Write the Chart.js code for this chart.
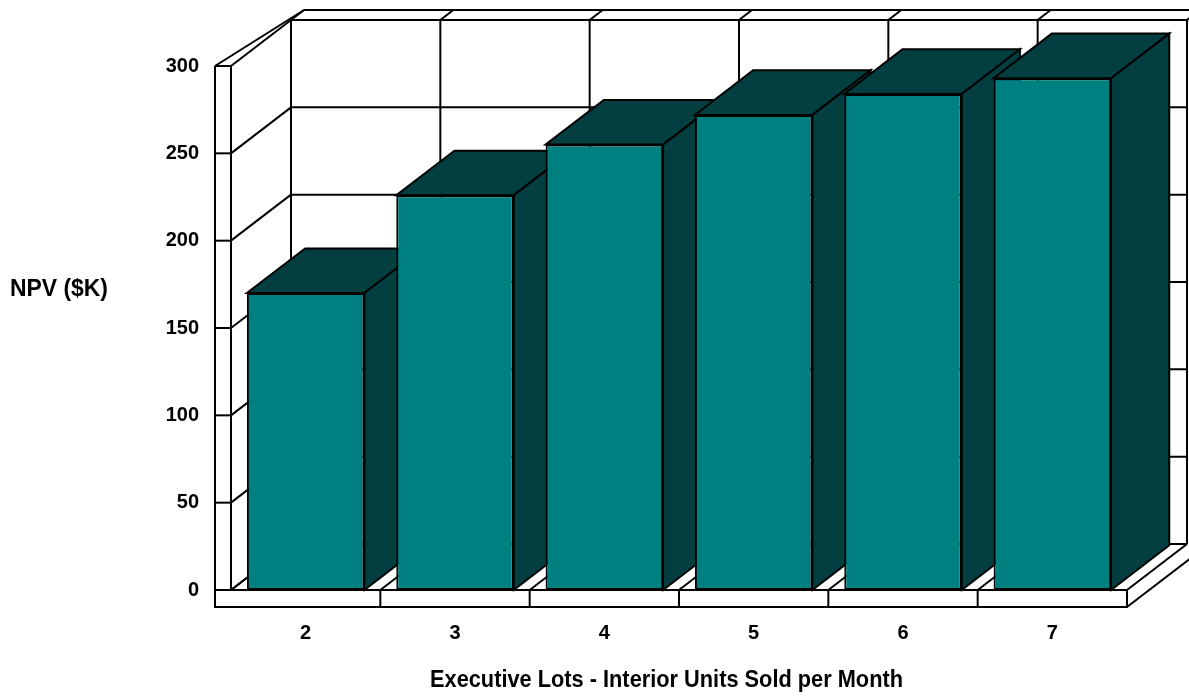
<!DOCTYPE html>
<html>
<head>
<meta charset="utf-8">
<script src="https://cdn.jsdelivr.net/npm/chart.js@4"></script>
<style>
  html, body { margin: 0; padding: 0; background: #fff; }
</style>
</head>
<body>
<canvas id="npvChart" width="1189" height="698"></canvas>
<script>
const unitsSold = ['2', '3', '4', '5', '6', '7'];
const npvValues = [170, 226, 255, 272, 284, 293];
const npvTicks = [0, 50, 100, 150, 200, 250, 300];
const yTitle = 'NPV ($K)';
const xTitle = 'Executive Lots - Interior Units Sold per Month';

const teal = '#008080';
const tealDark = '#033f40';
const depthX = 60, depthY = -46;   // offset from front plane to back wall
const wallX = 13, wallY = -10;     // back wall thickness
const wallW = 16, floorH = 17;     // left wall / floor slab thickness
const barDepth = 0.97;
const font = '"Liberation Sans", Arial, Helvetica, sans-serif';

function line(ctx, x1, y1, x2, y2) {
    ctx.beginPath();
    ctx.moveTo(x1, y1);
    ctx.lineTo(x2, y2);
    ctx.stroke();
}

function face(ctx, pts, fill) {
    ctx.beginPath();
    ctx.moveTo(pts[0][0], pts[0][1]);
    for (let i = 1; i < pts.length; i++) ctx.lineTo(pts[i][0], pts[i][1]);
    ctx.closePath();
    ctx.fillStyle = fill;
    ctx.fill();
    ctx.stroke();
}

// walls, floor and the depth faces of each bar
const box3d = {
    id: 'box3d',
    beforeDatasetsDraw(chart) {
        const { ctx, chartArea: a, scales } = chart;
        const L = a.left, R = a.right, T = a.top, B = a.bottom;
        const n = unitsSold.length;
        const cw = (R - L) / n;

        ctx.save();
        ctx.lineWidth = 2;
        ctx.strokeStyle = '#000';
        ctx.lineJoin = 'miter';

        npvTicks.forEach(v => {
            const py = scales.y.getPixelForValue(v);
            line(ctx, L + depthX, py + depthY, R + depthX, py + depthY);
            line(ctx, L, py, L + depthX, py + depthY);
            line(ctx, L - wallW, py, L, py);
        });

        for (let i = 0; i <= n; i++) {
            const px = L + i * cw;
            line(ctx, px + depthX, T + depthY, px + depthX, B + depthY);
            line(ctx, px + depthX, T + depthY, px + depthX + wallX, T + depthY + wallY);
            line(ctx, px, B, px + depthX, B + depthY);
            if (i > 0 && i < n) line(ctx, px, B, px, B + floorH);
        }

        // outline of the left wall and floor slab
        ctx.beginPath();
        ctx.moveTo(L - wallW, T);
        ctx.lineTo(L - wallW, B + floorH);
        ctx.lineTo(R, B + floorH);
        ctx.lineTo(R, B);
        ctx.stroke();
        line(ctx, L, T, L, B);
        line(ctx, L, B, R, B);
        line(ctx, L - wallW, T, L, T);
        line(ctx, L - wallW, T, L + depthX + wallX, T + depthY + wallY);
        line(ctx, L + depthX + wallX, T + depthY + wallY, chart.width + 20, T + depthY + wallY);
        line(ctx, R, B + floorH, R + depthX + wallX, B + floorH + depthY + wallY);

        const bdx = depthX * barDepth, bdy = depthY * barDepth;
        chart.getDatasetMeta(0).data.forEach(bar => {
            const x0 = bar.x - bar.width / 2, x1 = bar.x + bar.width / 2;
            const yt = bar.y, yb = bar.base;
            face(ctx, [[x0, yt], [x1, yt], [x1 + bdx, yt + bdy], [x0 + bdx, yt + bdy]], tealDark);
            face(ctx, [[x1, yt], [x1 + bdx, yt + bdy], [x1 + bdx, yb + bdy], [x1, yb]], tealDark);
        });
        ctx.restore();
    },
    afterDraw(chart) {
        const ctx = chart.ctx;
        ctx.save();
        ctx.fillStyle = '#000';
        ctx.font = 'bold 23px ' + font;
        ctx.textAlign = 'left';
        ctx.textBaseline = 'alphabetic';
        ctx.fillText(yTitle, 10, 296, 98);
        ctx.fillText(xTitle, 430, 687, 473);
        ctx.restore();
    }
};

const ctx = document.getElementById('npvChart').getContext('2d');
const npvChart = new Chart(ctx, {
    type: 'bar',
    data: {
        labels: unitsSold,
        datasets: [{
            data: npvValues,
            backgroundColor: teal,
            borderColor: '#000',
            borderWidth: 2,
            borderSkipped: false,
            barPercentage: 118 / 150,
            categoryPercentage: 1
        }]
    },
    options: {
        responsive: false,
        animation: false,
        devicePixelRatio: 1,
        layout: { padding: { left: 0, top: 66, right: 62, bottom: 0 } },
        plugins: {
            legend: { display: false },
            tooltip: { enabled: false }
        },
        scales: {
            x: {
                grid: { display: false, drawTicks: false },
                border: { display: false },
                ticks: { color: '#000', padding: 31, font: { family: font, size: 20, weight: 'bold' } },
                afterFit: s => { s.height = 108; }
            },
            y: {
                min: 0,
                max: 300,
                grid: { display: false, drawTicks: false },
                border: { display: false },
                ticks: { stepSize: 50, color: '#000', padding: 32, font: { family: font, size: 20, weight: 'bold' } },
                afterFit: s => { s.width = 231; }
            }
        }
    },
    plugins: [box3d]
});
</script>
</body>
</html>
